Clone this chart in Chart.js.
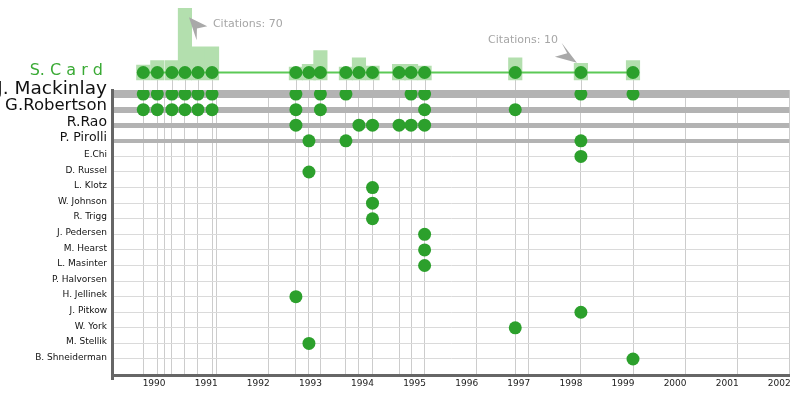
<!DOCTYPE html>
<html>
<head>
<meta charset="utf-8">
<script src="https://cdn.jsdelivr.net/npm/chart.js@4"></script>
<style>
  html, body { margin: 0; padding: 0; background: #fff; }
  #wrap { position: relative; width: 800px; height: 395px; overflow: hidden; }
  #chart-card { position: absolute; left: 0; top: 0; }
  #chart-rows { position: absolute; left: 0; top: 76px; }
</style>
</head>
<body>
<div id="wrap">
  <canvas id="chart-card" width="800" height="90"></canvas>
  <canvas id="chart-rows" width="800" height="319"></canvas>
</div>
<script>
// ── Data ─────────────────────────────────────────────────────────────────────
const mainAuthor = 'S. C a r d';

// publication dates of the main author (fractional years)
const pubYears = [1989.60, 1989.87, 1990.15, 1990.40, 1990.65, 1990.92,
                  1992.53, 1992.78, 1993.00, 1993.49, 1993.74, 1994.00,
                  1994.51, 1994.74, 1995.00, 1996.74, 1998.00, 1999.00];
const citations = [8, 13, 13, 70, 28, 28, 6, 9, 24, 6, 16, 7, 9, 9, 7, 16, 10, 13];

const coauthors = ['J. Mackinlay', 'G.Robertson', 'R.Rao', 'P. Pirolli', 'E.Chi',
                   'D. Russel', 'L. Klotz', 'W. Johnson', 'R. Trigg', 'J. Pedersen',
                   'M. Hearst', 'L. Masinter', 'P. Halvorsen', 'H. Jellinek',
                   'J. Pitkow', 'W. York', 'M. Stellik', 'B. Shneiderman'];
// index into pubYears for every co-authored paper
const coauthorPubs = [
  [0, 1, 2, 3, 4, 5, 6, 8, 9, 13, 14, 16, 17],
  [0, 1, 2, 3, 4, 5, 6, 8, 14, 15],
  [6, 10, 11, 12, 13, 14],
  [7, 9, 16],
  [16], [7], [11], [11], [11], [14], [14], [14], [], [6], [16], [15], [7], [17]
];

const yearTicks = [1989, 1990, 1991, 1992, 1993, 1994, 1995, 1996,
                   1997, 1998, 1999, 2000, 2001, 2002];
const calloutPubs = [3, 16];   // papers with a citation callout

// ── Styles ───────────────────────────────────────────────────────────────────
const FONT = 'DejaVu Sans';
const DOT = '#2ca02c';
const bigLabelSizes = [18.5, 16.5, 14, 12.5];
const bigRowWidths  = [8, 6, 5, 4];
const labelSize = i => bigLabelSizes[i] ?? 9;
const rowWidth  = i => bigRowWidths[i] ?? 1;

const calloutStyles = [
  { tip: [4, 9],     arrow: [[18.3, 9], [8, 11.3], [7.7, 23]],       text: [28, 16],     align: 'left' },
  { tip: [-4, -0.6], arrow: [[-22, -6], [-9.7, -9.4], [-15.3, -20]], text: [-23, -23.3], align: 'right' }
];

// ── Plugins ──────────────────────────────────────────────────────────────────
const stemsPlugin = {
  id: 'stems',
  beforeDatasetsDraw(chart) {
    const { ctx, scales: { x, y } } = chart;
    const y0 = y.getPixelForValue(0);
    ctx.save();
    ctx.strokeStyle = '#cccccc';
    ctx.lineWidth = 1;
    pubYears.forEach(yr => {
      const px = Math.round(x.getPixelForValue(yr)) + 0.5;
      ctx.beginPath();
      ctx.moveTo(px, y0);
      ctx.lineTo(px, chart.height);
      ctx.stroke();
    });
    ctx.restore();
  }
};

const calloutPlugin = {
  id: 'callouts',
  afterDatasetsDraw(chart) {
    const { ctx, scales: { x, y } } = chart;
    ctx.save();
    ctx.font = `11px "${FONT}"`;
    ctx.textBaseline = 'middle';
    calloutPubs.forEach((i, k) => {
      const s = calloutStyles[k];
      const bx = x.getPixelForValue(pubYears[i]);
      const top = y.getPixelForValue(citations[i]);
      const tx = bx + s.tip[0], ty = top + s.tip[1];
      ctx.fillStyle = '#a9a9a9';
      ctx.beginPath();
      ctx.moveTo(tx, ty);
      s.arrow.forEach(([dx, dy]) => ctx.lineTo(tx + dx, ty + dy));
      ctx.closePath();
      ctx.fill();
      ctx.fillStyle = '#a6a6a6';
      ctx.textAlign = s.align;
      ctx.fillText('Citations: ' + citations[i], bx + s.text[0], top + s.text[1]);
    });
    ctx.restore();
  }
};

// ── Top chart: main author, citations ─────────────────────────────────────────
new Chart(document.getElementById('chart-card'), {
  type: 'scatter',
  data: {
    datasets: [
      {
        type: 'line',
        data: pubYears.map(x => ({ x, y: 0 })),
        borderColor: '#5cc956',
        borderWidth: 2,
        pointRadius: 6.5,
        pointBackgroundColor: DOT,
        pointBorderWidth: 0,
        order: 0,
      },
      {
        type: 'bar',
        data: pubYears.map((x, i) => ({ x, y: citations[i] })),
        base: -8,
        backgroundColor: '#b3dfae',
        barThickness: 13.5,
        order: 1,
      },
    ],
  },
  options: {
    responsive: false,
    animation: false,
    layout: { autoPadding: false, padding: { left: 0, right: 10.7, top: 0, bottom: 0 } },
    plugins: { legend: { display: false }, tooltip: { enabled: false } },
    scales: {
      x: { type: 'linear', min: 1989, max: 2002, display: false, offset: false },
      y: {
        type: 'linear', min: -19.1, max: 79.05,
        afterBuildTicks: s => { s.ticks = [{ value: 0 }]; },
        afterFit: s => { s.width = 112; s.paddingTop = 0; s.paddingBottom = 0; },
        grid: { display: false },
        border: { display: false },
        ticks: {
          callback: () => mainAuthor,
          color: '#3aaa35',
          font: { family: FONT, size: 16 },
          padding: 1,
          labelOffset: -2,
        },
      },
    },
  },
  plugins: [stemsPlugin, calloutPlugin],
});

// ── Bottom chart: co-author rows ──────────────────────────────────────────────
const coauthorPoints = coauthors.flatMap((_, r) =>
  coauthorPubs[r].map(i => ({ x: pubYears[i], y: r })));
const xTickValues = [...new Set([...yearTicks, ...pubYears])].sort((a, b) => a - b);

new Chart(document.getElementById('chart-rows'), {
  type: 'scatter',
  data: {
    datasets: [{
      data: coauthorPoints,
      pointRadius: 6.5,
      backgroundColor: DOT,
      borderWidth: 0,
    }],
  },
  options: {
    responsive: false,
    animation: false,
    layout: { autoPadding: false, padding: { left: 0, right: 10.7, top: 14, bottom: 0 } },
    plugins: { legend: { display: false }, tooltip: { enabled: false } },
    scales: {
      x: {
        type: 'linear', min: 1989, max: 2002,
        afterBuildTicks: s => { s.ticks = xTickValues.map(value => ({ value })); },
        afterFit: s => { s.height = 19.5; s.paddingLeft = 0; s.paddingRight = 0; },
        grid: { color: '#cccccc', lineWidth: 1, drawTicks: false, z: -2 },
        border: { color: '#666666', width: 3 },
        ticks: {
          autoSkip: false, maxRotation: 0, minRotation: 0,
          padding: 3, labelOffset: -10,
          color: '#222',
          font: { family: FONT, size: 9 },
          callback: v => (Number.isInteger(v) && v > 1989 ? String(v) : ''),
        },
      },
      y: {
        type: 'linear', reverse: true, min: -0.26, max: 18.06,
        afterBuildTicks: s => { s.ticks = coauthors.map((_, value) => ({ value })); },
        afterFit: s => { s.width = 112; s.paddingTop = 0; s.paddingBottom = 0; },
        grid: {
          color: ctx => (ctx.index < 4 ? '#b3b3b3' : '#dadada'),
          lineWidth: ctx => rowWidth(ctx.index),
          drawTicks: false,
          z: -1,
        },
        border: { color: '#666666', width: 3 },
        ticks: {
          autoSkip: false,
          padding: 5,
          color: '#111',
          // second empty line lifts the text so it sits on the row like the original
          font: ctx => {
            const size = labelSize(ctx.index);
            const shift = 0.346 * size - 1.5;
            return { family: FONT, size, lineHeight: (2 * shift).toFixed(2) + 'px' };
          },
          callback: v => [coauthors[v], ''],
        },
      },
    },
  },
});
</script>
</body>
</html>
